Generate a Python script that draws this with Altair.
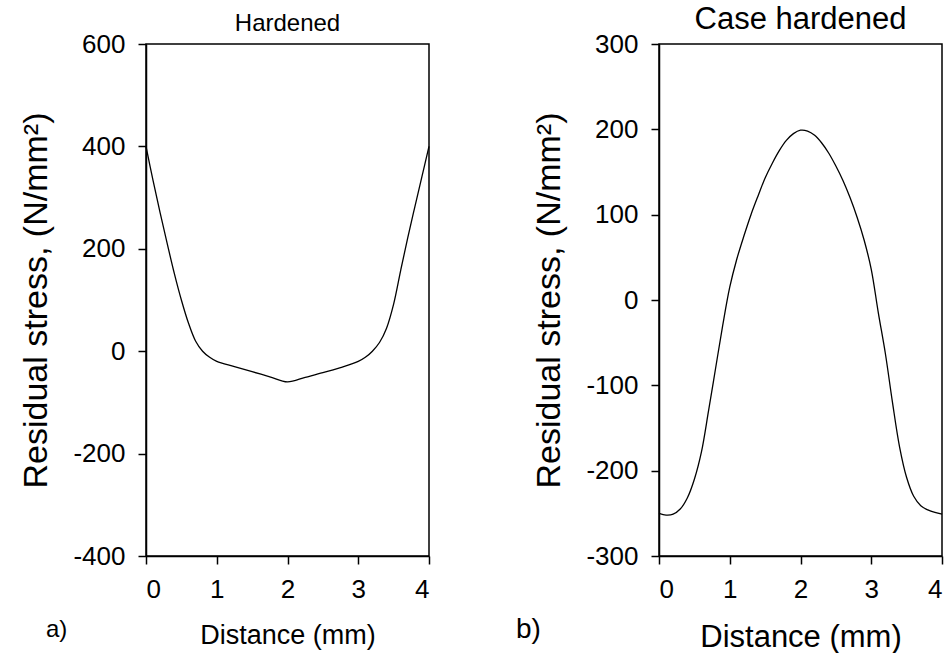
import altair as alt
import pandas as pd

# Hardened profile
hard_x = [0.0, 0.1, 0.2, 0.3, 0.4, 0.5, 0.6, 0.7, 0.8, 0.9, 1.0, 1.25, 1.5, 1.75, 2.0,
          2.25, 2.5, 2.75, 3.0, 3.1, 3.2, 3.3, 3.4, 3.5, 3.6, 3.7, 3.8, 3.9, 4.0]
hard_y = [400, 333, 270, 210, 152, 100, 55, 20, 0, -12, -20, -30, -40, -50, -60,
          -51, -42, -32, -20, -12, 0, 17, 45, 92, 158, 222, 282, 341, 400]

# Case hardened profile
case_x = [0.0, 0.1, 0.2, 0.3, 0.4, 0.5, 0.6, 0.7, 0.8, 0.9, 1.0, 1.1, 1.2, 1.3, 1.4,
          1.5, 1.6, 1.7, 1.8, 1.9, 2.0, 2.1, 2.2, 2.3, 2.4, 2.5, 2.6, 2.7, 2.8, 2.9,
          3.0, 3.1, 3.2, 3.3, 3.4, 3.5, 3.6, 3.7, 3.8, 3.9, 4.0]
case_y = [-250, -252, -251, -245, -232, -210, -178, -130, -80, -30, 15, 48, 75, 100, 122,
          143, 160, 175, 187, 195, 199, 198, 193, 184, 172, 157, 140, 120, 97, 70,
          36, -15, -63, -120, -172, -208, -230, -241, -246, -249, -251]

x_ticks = [0, 1, 2, 3, 4]
hard_ticks = [-400, -200, 0, 200, 400, 600]
case_ticks = [-300, -200, -100, 0, 100, 200, 300]

FONT = "Liberation Sans"
W, H = 283, 512


def panel(xs, ys, ydom, yticks, title, letter, title_size, xtitle_size, letter_dx, letter_size):
    df = pd.DataFrame({"x": xs, "y": ys})
    line = alt.Chart(df).mark_line(color="black", strokeWidth=1.3, interpolate="catmull-rom").encode(
        x=alt.X("x:Q", scale=alt.Scale(domain=[0, 4], nice=False),
                axis=alt.Axis(values=x_ticks, title="Distance (mm)", titleFontSize=xtitle_size,
                              titlePadding=20, labelPadding=12, labelExpr="'' + datum.value")),
        y=alt.Y("y:Q", scale=alt.Scale(domain=ydom, nice=False),
                axis=alt.Axis(values=yticks, title="Residual stress, (N/mm²)", titleFontSize=34,
                              titlePadding=19, labelPadding=13, labelExpr="'' + datum.value")),
    )
    lab = alt.Chart(pd.DataFrame({"t": [letter]})).mark_text(
        font=FONT, fontSize=letter_size, align="left", baseline="middle", color="black"
    ).encode(text="t:N", x=alt.value(letter_dx), y=alt.value(H + 74))
    return alt.layer(line, lab).properties(
        width=W, height=H,
        title=alt.TitleParams(title, fontSize=title_size, font=FONT, fontWeight="normal",
                              color="black", offset=-5),
    )


left = panel(hard_x, hard_y, [-400, 600], hard_ticks, "Hardened", "a)", 24, 27, -100, 24)
right = panel(case_x, case_y, [-300, 300], case_ticks, "Case hardened", "b)", 31, 31, -143, 28)

chart = alt.hconcat(left, right, spacing=230, bounds="flush").resolve_scale(
    x="independent", y="independent"
).properties(
    padding={"left": 19, "top": 3, "right": 0, "bottom": 0},
    background="white",
).configure_view(
    stroke="black", strokeWidth=1.5
).configure_axis(
    grid=False, domainColor="black", domainWidth=1.5, tickColor="black", tickWidth=1.5,
    tickSize=8, labelColor="black", titleColor="black", labelFont=FONT, titleFont=FONT,
    labelFontSize=26, titleFontWeight="normal"
)

chart.save("out.html", embed_options={"renderer": "svg", "actions": False})
